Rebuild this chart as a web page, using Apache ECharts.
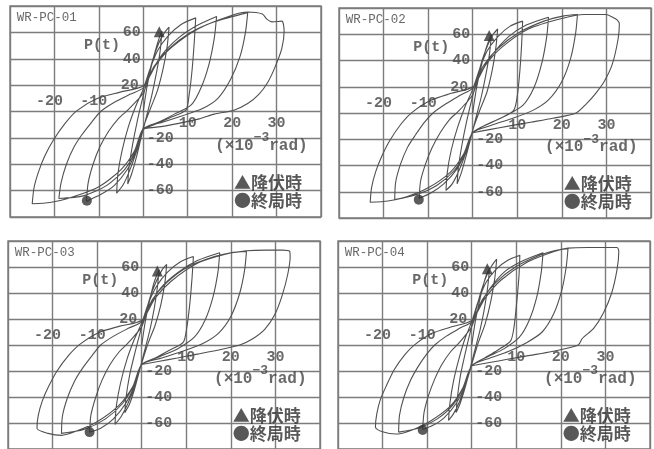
<!DOCTYPE html>
<html>
<head>
<meta charset="utf-8">
<script src="https://cdn.jsdelivr.net/npm/echarts@6/dist/echarts.min.js"></script>
<style>
  html, body { margin: 0; padding: 0; background: #ffffff; }
  #chart { width: 654px; height: 449px; }
</style>
</head>
<body>
<div id="chart"></div>
<script>
// Specimen names
const specimens = ['WR-PC-01', 'WR-PC-02', 'WR-PC-03', 'WR-PC-04'];

// Tick labels drawn beside the zero axes
const xTickLabels = [-20, -10, 10, 20, 30];
const yTickLabelsPos = [60, 40, 20];
const yTickLabelsNeg = [-20, -40, -60];

// Load (t) versus drift angle (x10^-3 rad) histories, one continuous path per specimen
const loop01 = [
  [0,0],[0.8,18],[1.8,34],[2.8,47],[3.6,56],[4.2,61],
  [3.8,46],[3.0,30],[1.9,12],[0.7,-4],[-0.5,-20],[-1.5,-34],[-2.6,-47],[-3.5,-55],
  [-3.2,-42],[-2.4,-25],[-1.4,-8],[-0.3,8],[0.9,24],[2.1,39],[3.5,52],[4.8,60],[5.8,64],
  [5.4,50],[4.5,33],[3.2,16],[1.7,3],[0,-12],[-1.5,-30],[-3.1,-45],[-4.6,-56],[-6,-62],
  [-5.7,-47],[-4.8,-30],[-3.4,-12],[-1.7,4],[0,17],[1.5,32],[3.2,46],[5.5,57],[8.5,66],[11.8,71],
  [11.5,54],[11,32],[10.3,12],[9.6,1],[6.5,-4],[3.2,-9],[0,-14],[-1.6,-30],[-3.6,-44],[-6.5,-56],[-9.6,-63],[-12.8,-68],
  [-12.4,-54],[-11.3,-40],[-9.8,-27],[-7.8,-15],[-5.5,-5],[-3.5,1],[-1.5,8],[0,14],[1.6,28],[4.2,43],[8,56],[12,65],[16.5,72],
  [16,56],[14.8,36],[13,18],[10.8,5],[7,-2],[3.5,-8],[0,-13],[-1.8,-30],[-4.2,-44],[-8.2,-56],[-13.5,-64],[-19,-66],
  [-18.5,-54],[-17.3,-40],[-15.6,-27],[-13.9,-18],[-11.6,-8],[-9.6,0],[-6.5,7],[-3,13],[0,18],[2.4,34],[5.6,47],[10.2,59],[16,68],[23.5,75],
  [23,60],[21.8,42],[19.6,24],[16.8,10],[13.2,2],[9,-3],[4.5,-8],[0,-13],[-2,-30],[-5,-44],[-10,-57],[-17,-66],[-21,-69],[-25,-70],
  [-24.6,-58],[-23.6,-46],[-22.2,-34],[-20.3,-22],[-17.6,-9],[-15,0.5],[-10.5,9.7],[-5.2,14.7],[0,19.5],[3,36],[6.5,49],[12.5,63],[20,73],[23.5,75.5],[26.8,74],[27.8,70],[29,68],[31.2,68.5],[31.7,61],
  [31.2,48],[29.7,34],[28,22],[26,13],[23.5,6],[20.4,1],[16,-2],[12.6,-5.6],[8,-9],[4,-11.5],[0,-13]
];
const loop02 = [
  [0,0],[0.8,18],[1.8,34],[2.8,47],[3.6,55],[4.2,60],
  [3.8,46],[3,30],[1.9,12],[0.7,-4],[-0.5,-20],[-1.5,-33],[-2.6,-46],[-3.5,-54],
  [-3.2,-41],[-2.4,-24],[-1.4,-7],[-0.3,9],[0.9,25],[2.1,40],[3.4,52],[4.6,60],[5.6,64],
  [5.2,50],[4.4,33],[3.2,16],[1.7,3],[0,-13],[-1.5,-30],[-3.1,-44],[-4.6,-54],[-6,-59],
  [-5.7,-45],[-4.8,-28],[-3.4,-11],[-1.7,5],[0,18],[1.5,33],[3.2,47],[5.6,58],[8.3,66],[11.2,70],
  [11,54],[10.6,33],[10,13],[9.2,2],[6.2,-4],[3,-9],[0,-15],[-1.6,-30],[-3.6,-43],[-6.5,-54],[-9.4,-61],[-12,-65],
  [-11.7,-52],[-10.6,-39],[-9.2,-27],[-7.3,-15],[-5.2,-5],[-3.3,1],[-1.4,8],[0,14],[1.6,29],[4.3,44],[8,58],[12,67],[17,73],
  [16.6,58],[15.5,38],[13.7,19],[11.3,6],[7.5,-2],[3.7,-8],[0,-15],[-1.8,-31],[-4.2,-44],[-8,-55],[-12.5,-62],[-17.5,-66],
  [-17.3,-53],[-16.2,-39],[-14.6,-26],[-12.9,-17],[-10.8,-7],[-8.9,0],[-6,7],[-2.8,13.5],[0,19],[2.4,36],[5.6,49],[10.2,61],[16,70],[20.5,74],[23.5,75],
  [23.1,61],[22,42],[20,24],[17,10],[13.5,2],[9,-4],[4.5,-9],[0,-15],[-2,-31],[-5,-45],[-10,-57],[-15,-64],[-19,-67],[-23,-68],
  [-22.7,-57],[-21.8,-45],[-20.4,-33],[-18.6,-21],[-16,-8],[-13.6,0.5],[-9.5,9.5],[-4.8,15],[0,20],[3,37],[6.5,50],[12.5,64],[20,72],[25,75],[29.9,75],[31.4,73],[32.4,71],[32.9,68],
  [32.6,56],[31.3,37],[29.5,24],[27.6,15],[25.5,7],[23.2,0],[18,-4],[13,-7],[8,-10],[4,-12.5],[0,-15]
];
const loop03 = [
  [0,0],[0.8,18],[1.7,33],[2.6,46],[3.4,54],[3.9,58],
  [3.5,44],[2.8,28],[1.8,11],[0.6,-5],[-0.6,-21],[-1.7,-35],[-2.8,-46],[-3.8,-52],
  [-3.5,-40],[-2.7,-23],[-1.6,-7],[-0.4,9],[0.8,24],[2,38],[3.4,50],[4.6,58],[5.6,62],
  [5.2,48],[4.3,31],[3,15],[1.5,2],[0,-14],[-1.5,-31],[-3.1,-45],[-4.6,-55],[-6,-61],
  [-5.7,-47],[-4.8,-30],[-3.4,-12],[-1.7,4],[0,17],[1.5,32],[3.3,45],[5.8,56],[8.7,64],[11.6,68],
  [11.3,52],[10.8,32],[10.1,13],[9.3,2],[6.2,-4],[3,-10],[0,-15],[-1.6,-31],[-3.6,-45],[-6.4,-57],[-9.2,-64],[-11.7,-67],
  [-11.4,-54],[-10.3,-40],[-8.9,-27],[-7.1,-15],[-5,-5],[-3.2,1],[-1.4,8],[0,14],[1.6,29],[4.3,44],[8.2,56],[12.5,65],[17.5,71],
  [17.1,56],[16,37],[14.2,19],[11.8,6],[8,-3],[4,-9],[0,-15],[-1.8,-31],[-4.3,-45],[-8.2,-57],[-13,-65],[-18,-68],
  [-17.8,-55],[-16.7,-41],[-15.1,-28],[-13.3,-18],[-11.1,-8],[-9.2,0],[-6.2,7],[-2.9,13],[0,18],[2.4,35],[5.6,48],[10.3,60],[16.3,68],[20,71],[23.5,72],
  [23.1,58],[22,40],[20,22],[17.2,9],[13.6,1],[9,-5],[4.5,-10],[0,-15],[-2,-32],[-5,-46],[-10,-59],[-14.5,-66],[-18,-69.5],[-21,-68],[-23.5,-64],
  [-23.2,-54],[-22.3,-43],[-20.9,-32],[-19,-20],[-16.4,-8],[-13.9,0.5],[-9.7,9.5],[-4.9,14.5],[0,19],[3,36],[6.6,49],[12.6,63],[19,70],[23.5,72.5],[28,73],[31.6,73],[33.2,72],[33.3,68],
  [32.8,55],[31.5,38],[29.8,23],[27.6,12],[25,5],[22,0],[17,-4],[12.5,-7],[8,-10],[4,-12.5],[0,-15]
];
const loop04 = [
  [0,0],[0.8,18],[1.7,33],[2.6,46],[3.4,55],[4,59],
  [3.6,45],[2.9,29],[1.9,12],[0.7,-4],[-0.5,-20],[-1.5,-33],[-2.6,-45],[-3.5,-52],
  [-3.2,-40],[-2.5,-23],[-1.5,-7],[-0.4,9],[0.8,25],[2,40],[3.3,53],[4.5,61],[5.6,66],
  [5.2,52],[4.3,34],[3,16],[1.5,2],[0,-15],[-1.4,-31],[-2.8,-44],[-4.1,-53],[-5.2,-58],
  [-4.9,-45],[-4.1,-28],[-2.9,-11],[-1.5,5],[0,18],[1.5,34],[3.2,48],[5.4,58],[8,65],[10.8,69],
  [10.6,53],[10.1,33],[9.5,14],[8.7,3],[5.8,-4],[2.9,-10],[0,-16],[-1.6,-32],[-3.5,-45],[-6.2,-56],[-8.8,-62],[-11,-65],
  [-10.7,-52],[-9.7,-39],[-8.4,-27],[-6.7,-15],[-4.7,-5],[-3,1],[-1.3,8],[0,14],[1.6,29],[4.2,44],[7.6,57],[11.6,65],[16,71],
  [15.6,56],[14.6,37],[12.9,19],[10.7,6],[7.2,-3],[3.6,-9],[0,-16],[-1.8,-32],[-4.2,-46],[-7.8,-57],[-12,-64],[-16.4,-67],
  [-16.2,-54],[-15.2,-40],[-13.7,-27],[-12.1,-17],[-10.1,-7],[-8.3,0],[-5.6,7],[-2.6,13],[0,18],[2.4,35],[5.4,48],[9.8,60],[15.2,69],[18.5,72.5],[21.6,74],
  [21.2,60],[20.2,42],[18.4,24],[15.8,10],[12.4,2],[8.2,-5],[4.1,-10],[0,-16],[-2,-33],[-4.8,-47],[-9.5,-59],[-13.5,-65.5],[-17,-68.5],[-19.8,-67],[-21.6,-63],
  [-21.3,-53],[-20.5,-42],[-19.1,-31],[-17.4,-19],[-14.9,-7],[-12.7,0.5],[-8.9,9],[-4.5,14],[0,19],[3,36],[6.6,50],[12.6,64],[18.5,72],[21.6,74.5],[26,75],[30,75],[32.6,75],[33,72],
  [32.6,58],[31.4,40],[29.6,25],[27.4,13],[24.8,5],[23.9,0],[18,-5],[13,-8],[8,-11],[4,-13.5],[0,-16]
];

// Yield points (降伏時) and ultimate points (終局時)
const yieldPoints = [[3.6, 60.5], [3.7, 59], [3.5, 57], [3.5, 58.6]];
const ultimatePoints = [[-12.7, -67.7], [-12.1, -66], [-11.7, -67], [-11, -65.4]];

const loops = [loop01, loop02, loop03, loop04];

// Plot frames in pixels
const frames = [
  { left: 10,  top: 6,   width: 311, height: 211 },
  { left: 339, top: 8,   width: 312, height: 210 },
  { left: 8,   top: 241, width: 312, height: 210 },
  { left: 338, top: 241, width: 312, height: 210 }
];

// Anchor positions of annotation text, in data units
const anchors = {
  name: [-28.6, 71],
  pUnit: [-9.3, 50],
  xUnit: [26.6, -23.6],
  legendYield: [20.3, -54],
  legendUlt: [20.3, -67.8]
};

const ink = '#444444';
const gridInk = '#7c7c7c';
const mono = '"Liberation Mono", "DejaVu Sans Mono", monospace';
const cjk = '"Noto Sans CJK JP", "Noto Sans CJK SC", sans-serif';

const grid = [], xAxis = [], yAxis = [], series = [];

frames.forEach((f, i) => {
  grid.push(Object.assign({ show: true, borderColor: gridInk, borderWidth: 1.4, backgroundColor: 'transparent' }, f));
  xAxis.push({
    type: 'value', gridIndex: i, min: -30, max: 40, interval: 10,
    axisLine: { show: false }, axisTick: { show: false }, axisLabel: { show: false },
    splitLine: { show: true, lineStyle: { color: gridInk, width: 1.4 } }
  });
  yAxis.push({
    type: 'value', gridIndex: i, min: -80, max: 80, interval: 20,
    axisLine: { show: false }, axisTick: { show: false }, axisLabel: { show: false },
    splitLine: { show: true, lineStyle: { color: gridInk, width: 1.4 } }
  });

  // Hysteresis path
  series.push({
    type: 'line', xAxisIndex: i, yAxisIndex: i, data: loops[i],
    showSymbol: false, smooth: 0.25, silent: true,
    lineStyle: { color: '#505050', width: 1.1 }, z: 3
  });

  // Yield point marker
  series.push({
    type: 'scatter', xAxisIndex: i, yAxisIndex: i, data: [yieldPoints[i]],
    symbol: 'triangle', symbolSize: 11, itemStyle: { color: '#333' }, z: 5
  });
  // Ultimate point marker
  series.push({
    type: 'scatter', xAxisIndex: i, yAxisIndex: i, data: [ultimatePoints[i]],
    symbol: 'circle', symbolSize: 10, itemStyle: { color: '#333' }, z: 5
  });

  const textBase = { color: ink, fontFamily: mono, fontSize: 15, fontWeight: 'bold' };

  // x tick labels: negatives above the axis, positives below
  series.push({
    type: 'scatter', xAxisIndex: i, yAxisIndex: i, symbolSize: 1, silent: true,
    itemStyle: { color: 'rgba(0,0,0,0)' }, z: 6,
    data: xTickLabels.map(v => ({
      value: [v, 0],
      label: v < 0
        ? { show: true, position: 'top', distance: 2, offset: [-5, 0], formatter: String(v), ...textBase }
        : { show: true, position: 'bottom', distance: 4, formatter: String(v), ...textBase }
    }))
  });
  // y tick labels: positives left of the axis, negatives right
  series.push({
    type: 'scatter', xAxisIndex: i, yAxisIndex: i, symbolSize: 1, silent: true,
    itemStyle: { color: 'rgba(0,0,0,0)' }, z: 6,
    data: yTickLabelsPos.map(v => ({
      value: [0, v],
      label: { show: true, position: 'left', distance: v === 20 ? 4 : 2, formatter: String(v), ...textBase }
    })).concat(yTickLabelsNeg.map(v => ({
      value: [0, v],
      label: { show: true, position: 'right', distance: 3, formatter: String(v), ...textBase }
    })))
  });

  // Annotations: specimen name, axis units, legend
  series.push({
    type: 'scatter', xAxisIndex: i, yAxisIndex: i, symbolSize: 1, silent: true,
    itemStyle: { color: 'rgba(0,0,0,0)' }, z: 6,
    data: [
      { value: anchors.name, label: { show: true, position: 'right', distance: 0, formatter: specimens[i], color: ink, fontFamily: mono, fontSize: 12.5 } },
      { value: anchors.pUnit, label: { show: true, position: 'inside', formatter: 'P(t)', ...textBase } },
      { value: anchors.xUnit, label: {
          show: true, position: 'inside', formatter: '{n|(×10}{s|−3}{n|rad)}',
          rich: {
            n: { color: ink, fontFamily: mono, fontSize: 16, fontWeight: 'bold', lineHeight: 22, verticalAlign: 'bottom' },
            s: { color: ink, fontFamily: mono, fontSize: 13, fontWeight: 'bold', lineHeight: 22, verticalAlign: 'top' }
          }
      } },
      { value: anchors.legendYield, label: { show: true, position: 'right', distance: 0, formatter: '▲降伏時', color: '#2e2e2e', fontFamily: cjk, fontSize: 17, fontWeight: 'bold' } },
      { value: anchors.legendUlt, label: { show: true, position: 'right', distance: 0, formatter: '●終局時', color: '#2e2e2e', fontFamily: cjk, fontSize: 17, fontWeight: 'bold' } }
    ]
  });
});

const chart = echarts.init(document.getElementById('chart'), null, { renderer: 'canvas' });
chart.setOption({
  backgroundColor: '#ffffff',
  animation: false,
  grid, xAxis, yAxis, series
});
</script>
</body>
</html>
